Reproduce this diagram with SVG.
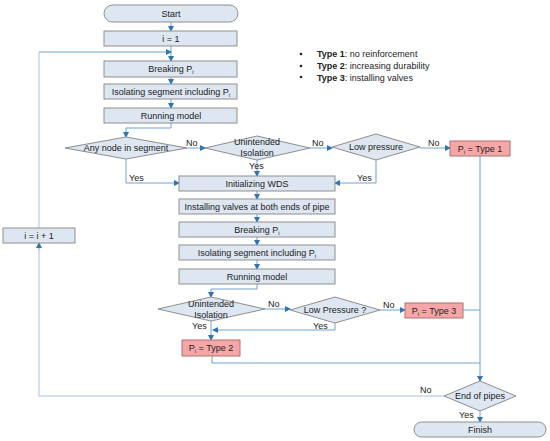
<svg xmlns="http://www.w3.org/2000/svg" width="550" height="441" viewBox="0 0 550 441">
<style>
text{font-family:"Liberation Sans",Arial,sans-serif;font-size:9px;fill:#222;}
.t{text-anchor:middle;}
.box{fill:#dde6f1;stroke:#8f8f8f;stroke-width:1;}
.red{fill:#f5a7a7;stroke:#b07070;stroke-width:1;}
.dia{fill:#dde6f1;stroke:#8f8f8f;stroke-width:1;}
.ln{fill:none;stroke:#6fa3d6;stroke-width:1;}
.lnl{fill:none;stroke:#c3d6ec;stroke-width:1.5;}
.sub{font-size:6px;}
</style>
<defs>
<marker id="ar" markerWidth="6" markerHeight="6" refX="5" refY="3" orient="auto" markerUnits="userSpaceOnUse">
<path d="M0,0 L6,3 L0,6 z" fill="#2e75b6"/>
</marker>
</defs>
<g id="connectors">
<line class="ln" x1="171" y1="22" x2="171" y2="31" marker-end="url(#ar)"/>
<line class="ln" x1="171" y1="46" x2="171" y2="61" marker-end="url(#ar)"/>
<line class="ln" x1="171" y1="77" x2="171" y2="84" marker-end="url(#ar)"/>
<line class="ln" x1="171" y1="99" x2="171" y2="108" marker-end="url(#ar)"/>
<polyline class="ln" points="171,123 171,128 126,128 126,137" marker-end="url(#ar)"/>
<line class="ln" x1="187" y1="148" x2="205" y2="148" marker-end="url(#ar)"/>
<line class="ln" x1="310" y1="148" x2="332" y2="148" marker-end="url(#ar)"/>
<line class="ln" x1="420" y1="148" x2="450" y2="148" marker-end="url(#ar)"/>
<line class="ln" x1="257" y1="160" x2="257" y2="176" marker-end="url(#ar)"/>
<polyline class="ln" points="126,159 126,183 179,183" marker-end="url(#ar)"/>
<polyline class="ln" points="376,160 376,183 335,183" marker-end="url(#ar)"/>
<line class="ln" x1="257" y1="191" x2="257" y2="199" marker-end="url(#ar)"/>
<line class="ln" x1="257" y1="214" x2="257" y2="222" marker-end="url(#ar)"/>
<line class="ln" x1="257" y1="237" x2="257" y2="245" marker-end="url(#ar)"/>
<line class="ln" x1="257" y1="260" x2="257" y2="269" marker-end="url(#ar)"/>
<polyline class="ln" points="257,284 257,289 211,289 211,297" marker-end="url(#ar)"/>
<line class="ln" x1="265" y1="309" x2="290" y2="309" marker-end="url(#ar)"/>
<line class="ln" x1="380" y1="310" x2="405" y2="310" marker-end="url(#ar)"/>
<polyline class="ln" points="335,322 335,330 213,330" marker-end="url(#ar)"/>
<line class="ln" x1="211" y1="321" x2="211" y2="340" marker-end="url(#ar)"/>
<line class="ln" x1="463" y1="310" x2="480" y2="310"/>
<polyline class="ln" points="212,356 212,363 480,363"/>
<line class="ln" x1="480" y1="156" x2="480" y2="381" marker-end="url(#ar)"/>
<line class="ln" x1="480" y1="411" x2="480" y2="422" marker-end="url(#ar)"/>
<polyline class="lnl" points="444,396 39,396 39,250"/>
<line class="ln" x1="39" y1="250" x2="39" y2="243" marker-end="url(#ar)"/>
<line class="lnl" x1="39" y1="228" x2="39" y2="52"/>
<line class="ln" x1="39" y1="52" x2="171" y2="52" marker-end="url(#ar)"/>
</g>
<g id="labels">
<text x="186" y="146">No</text>
<text x="312" y="146">No</text>
<text x="428" y="146">No</text>
<text x="249" y="169">Yes</text>
<text x="129" y="181">Yes</text>
<text x="357" y="181">Yes</text>
<text x="268" y="307">No</text>
<text x="383" y="308">No</text>
<text x="192" y="329">Yes</text>
<text x="313" y="329">Yes</text>
<text x="420" y="393">No</text>
<text x="459" y="418">Yes</text>
</g>
<g id="start"><rect class="box" x="104" y="5" width="134" height="17" rx="8.5"/><text class="t" x="171" y="17">Start</text></g>
<g id="i1"><rect class="box" x="104" y="31" width="133" height="15"/><text class="t" x="171" y="42">i = 1</text></g>
<g id="breaking1"><rect class="box" x="104" y="61" width="133" height="16"/><text class="t" x="171" y="72">Breaking P<tspan class="sub" dy="2">i</tspan></text></g>
<g id="isolating1"><rect class="box" x="104" y="84" width="133" height="15"/><text class="t" x="171" y="95">Isolating segment including P<tspan class="sub" dy="2">i</tspan></text></g>
<g id="running1"><rect class="box" x="104" y="108" width="133" height="15"/><text class="t" x="171" y="119">Running model</text></g>
<g id="anynode"><polygon class="dia" points="65,148 126,137 187,148 126,159"/><text class="t" x="126" y="151">Any node in segment</text></g>
<g id="unintended1"><polygon class="dia" points="205,148 257,136 310,148 257,160"/><text class="t" x="257" y="145">Unintended</text><text class="t" x="257" y="156">Isolation</text></g>
<g id="lowpressure1"><polygon class="dia" points="332,147 376,134 420,147 376,160"/><text class="t" x="376" y="150">Low pressure</text></g>
<g id="type1"><rect class="red" x="450" y="141" width="60" height="15"/><text class="t" x="480" y="152">P<tspan class="sub" dy="2">i</tspan><tspan dy="-2"> = Type 1</tspan></text></g>
<g id="legend">
<circle cx="301" cy="54" r="1.3" fill="#222"/><circle cx="301" cy="66" r="1.3" fill="#222"/><circle cx="301" cy="77" r="1.3" fill="#222"/>
<text x="317" y="57"><tspan font-weight="bold">Type 1</tspan>: no reinforcement</text>
<text x="317" y="69"><tspan font-weight="bold">Type 2</tspan>: increasing durability</text>
<text x="317" y="81"><tspan font-weight="bold">Type 3</tspan>: installing valves</text>
</g>
<g id="initwds"><rect class="box" x="179" y="176" width="156" height="15"/><text class="t" x="257" y="187">Initializing WDS</text></g>
<g id="installing"><rect class="box" x="179" y="199" width="156" height="15"/><text class="t" x="257" y="210">Installing valves at both ends of pipe</text></g>
<g id="breaking2"><rect class="box" x="179" y="222" width="156" height="15"/><text class="t" x="257" y="233">Breaking P<tspan class="sub" dy="2">i</tspan></text></g>
<g id="isolating2"><rect class="box" x="179" y="245" width="156" height="15"/><text class="t" x="257" y="256">Isolating segment including P<tspan class="sub" dy="2">i</tspan></text></g>
<g id="running2"><rect class="box" x="179" y="269" width="156" height="15"/><text class="t" x="257" y="280">Running model</text></g>
<g id="unintended2"><polygon class="dia" points="158,309 211,297 265,309 211,321"/><text class="t" x="211" y="307">Unintended</text><text class="t" x="211" y="318">Isolation</text></g>
<g id="lowpressure2"><polygon class="dia" points="290,310 335,297 380,310 335,323"/><text class="t" x="335" y="313">Low Pressure ?</text></g>
<g id="type3"><rect class="red" x="405" y="303" width="58" height="15"/><text class="t" x="434" y="314">P<tspan class="sub" dy="2">i</tspan><tspan dy="-2"> = Type 3</tspan></text></g>
<g id="type2"><rect class="red" x="182" y="340" width="58" height="16"/><text class="t" x="211" y="351">P<tspan class="sub" dy="2">i</tspan><tspan dy="-2"> = Type 2</tspan></text></g>
<g id="iinc"><rect class="box" x="3" y="228" width="72" height="15"/><text class="t" x="39" y="239">i = i + 1</text></g>
<g id="endofpipes"><polygon class="dia" points="444,396 480,381 516,396 480,411"/><text class="t" x="480" y="399">End of pipes</text></g>
<g id="finish"><rect class="box" x="414" y="422" width="132" height="15" rx="7.5"/><text class="t" x="480" y="433">Finish</text></g>
</svg>
